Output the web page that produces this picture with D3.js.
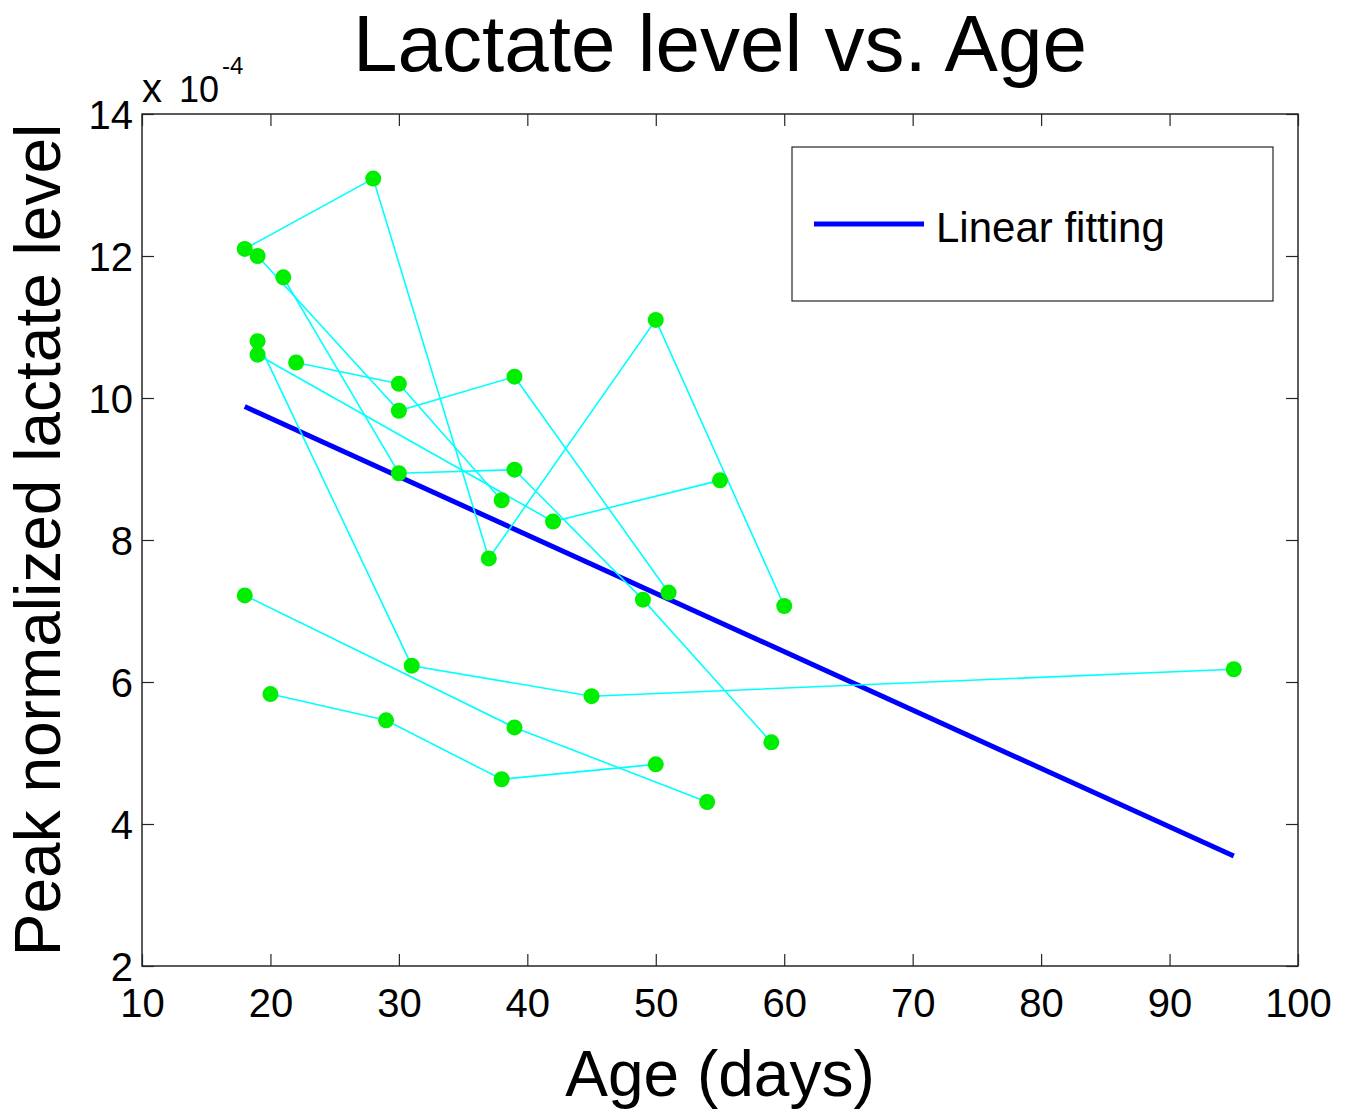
<!DOCTYPE html>
<html>
<head>
<meta charset="utf-8">
<script src="https://cdn.jsdelivr.net/npm/d3@7"></script>
<style>
  body { margin: 0; background: #fff; }
  text { font-family: "Liberation Sans", Arial, Helvetica, sans-serif; fill: #000; }
</style>
</head>
<body>
<div id="chart"></div>
<script>
// ages (days) and peak lactate level (x 10^-4), one pair of arrays per animal
const ages1 = [18, 28, 37, 50, 60];
const levels1 = [12.10, 13.09, 7.74, 11.10, 7.07];
const ages2 = [19, 30, 39, 51];
const levels2 = [12.00, 9.82, 10.30, 7.26];
const ages3 = [21, 30, 39, 49, 59];
const levels3 = [11.70, 8.94, 8.99, 7.16, 5.15];
const ages4 = [19, 31, 45, 95];
const levels4 = [10.80, 6.23, 5.80, 6.18];
const ages5 = [19, 42, 55];
const levels5 = [10.61, 8.26, 8.84];
const ages6 = [22, 30, 38];
const levels6 = [10.50, 10.20, 8.56];
const ages7 = [18, 39, 54];
const levels7 = [7.22, 5.36, 4.31];
const ages8 = [20, 29, 38, 50];
const levels8 = [5.83, 5.46, 4.63, 4.84];

// linear fit end points
const fitAges = [18, 95];
const fitLevels = [9.88, 3.55];

const xTicks = [10, 20, 30, 40, 50, 60, 70, 80, 90, 100];
const yTicks = [2, 4, 6, 8, 10, 12, 14];

const allAges = [ages1, ages2, ages3, ages4, ages5, ages6, ages7, ages8];
const allLevels = [levels1, levels2, levels3, levels4, levels5, levels6, levels7, levels8];

const series = allAges.map((a, i) => a.map((x, j) => ({ x: x, y: allLevels[i][j] })));
const fit = fitAges.map((x, j) => ({ x: x, y: fitLevels[j] }));

const svg = d3.select('#chart')
    .append('svg')
    .attr('width', 1355)
    .attr('height', 1110);

const margin = {top: 114, right: 57, bottom: 144, left: 142};
const width = 1355 - margin.left - margin.right;
const height = 1110 - margin.top - margin.bottom;

const chartG = svg.append('g')
    .attr('transform', `translate(${margin.left}, ${margin.top})`);

const xScale = d3.scaleLinear().domain([10, 100]).range([0, width]);
const yScale = d3.scaleLinear().domain([2, 14]).range([height, 0]);

const axisColor = '#262626';

// axes (ticks pointing inward, mirrored on top and right)
const xAxis = chartG.append('g')
    .attr('transform', `translate(0, ${height})`)
    .call(d3.axisBottom(xScale).tickValues(xTicks).tickSizeInner(-12).tickSizeOuter(0).tickPadding(23));
const xAxisTop = chartG.append('g')
    .call(d3.axisTop(xScale).tickValues(xTicks).tickSizeInner(-12).tickSizeOuter(0).tickFormat(''));
const yAxis = chartG.append('g')
    .call(d3.axisLeft(yScale).tickValues(yTicks).tickSizeInner(-12).tickSizeOuter(0).tickPadding(9));
const yAxisRight = chartG.append('g')
    .attr('transform', `translate(${width}, 0)`)
    .call(d3.axisRight(yScale).tickValues(yTicks).tickSizeInner(-12).tickSizeOuter(0).tickFormat(''));

[xAxis, xAxisTop, yAxis, yAxisRight].forEach(ax => {
    ax.select('.domain').remove();
    ax.selectAll('line').attr('stroke', axisColor).attr('stroke-width', 1.2);
    ax.selectAll('text')
        .style('font-family', '"Liberation Sans", Arial, sans-serif')
        .style('font-size', '40px')
        .attr('fill', '#000');
});
yAxis.selectAll('text').attr('dy', '0.36em');

chartG.append('rect')
    .attr('x', 0)
    .attr('y', 0)
    .attr('width', width)
    .attr('height', height)
    .attr('fill', 'none')
    .attr('stroke', axisColor)
    .attr('stroke-width', 1.5);

const line = d3.line().x(d => xScale(d.x)).y(d => yScale(d.y));

// fit line
chartG.append('path')
    .datum(fit)
    .attr('d', line)
    .attr('fill', 'none')
    .attr('stroke', '#0000ff')
    .attr('stroke-width', 5);

// per-animal lines
chartG.selectAll('.track')
    .data(series)
    .enter()
    .append('path')
    .attr('class', 'track')
    .attr('d', line)
    .attr('fill', 'none')
    .attr('stroke', '#00ffff')
    .attr('stroke-width', 1.6);

// dots
chartG.selectAll('.dot')
    .data(series.flat())
    .enter()
    .append('circle')
    .attr('class', 'dot')
    .attr('cx', d => xScale(d.x))
    .attr('cy', d => yScale(d.y))
    .attr('r', 8)
    .attr('fill', '#00ee00');

// legend
const legend = svg.append('g');
legend.append('rect')
    .attr('x', 792)
    .attr('y', 147)
    .attr('width', 481)
    .attr('height', 154)
    .attr('fill', '#fff')
    .attr('stroke', axisColor)
    .attr('stroke-width', 1.2);
legend.append('line')
    .attr('x1', 814)
    .attr('x2', 924)
    .attr('y1', 224)
    .attr('y2', 224)
    .attr('stroke', '#0000ff')
    .attr('stroke-width', 5);
legend.append('text')
    .attr('x', 936)
    .attr('y', 242)
    .style('font-size', '42px')
    .text('Linear fitting');

// exponent label
svg.append('text')
    .attr('x', 142)
    .attr('y', 102)
    .style('font-size', '40px')
    .text('x');
svg.append('text')
    .attr('x', 179)
    .attr('y', 102)
    .style('font-size', '36px')
    .text('10');
svg.append('text')
    .attr('x', 222)
    .attr('y', 74)
    .style('font-size', '24px')
    .text('-4');

// title and axis labels
svg.append('text')
    .attr('x', margin.left + width / 2)
    .attr('y', 71)
    .attr('text-anchor', 'middle')
    .style('font-size', '80px')
    .text('Lactate level vs. Age');

svg.append('text')
    .attr('x', margin.left + width / 2)
    .attr('y', 1096)
    .attr('text-anchor', 'middle')
    .style('font-size', '64px')
    .text('Age (days)');

svg.append('text')
    .attr('transform', `translate(60, ${margin.top + height / 2}) rotate(-90)`)
    .attr('text-anchor', 'middle')
    .style('font-size', '64px')
    .text('Peak normalized lactate level');
</script>
</body>
</html>
